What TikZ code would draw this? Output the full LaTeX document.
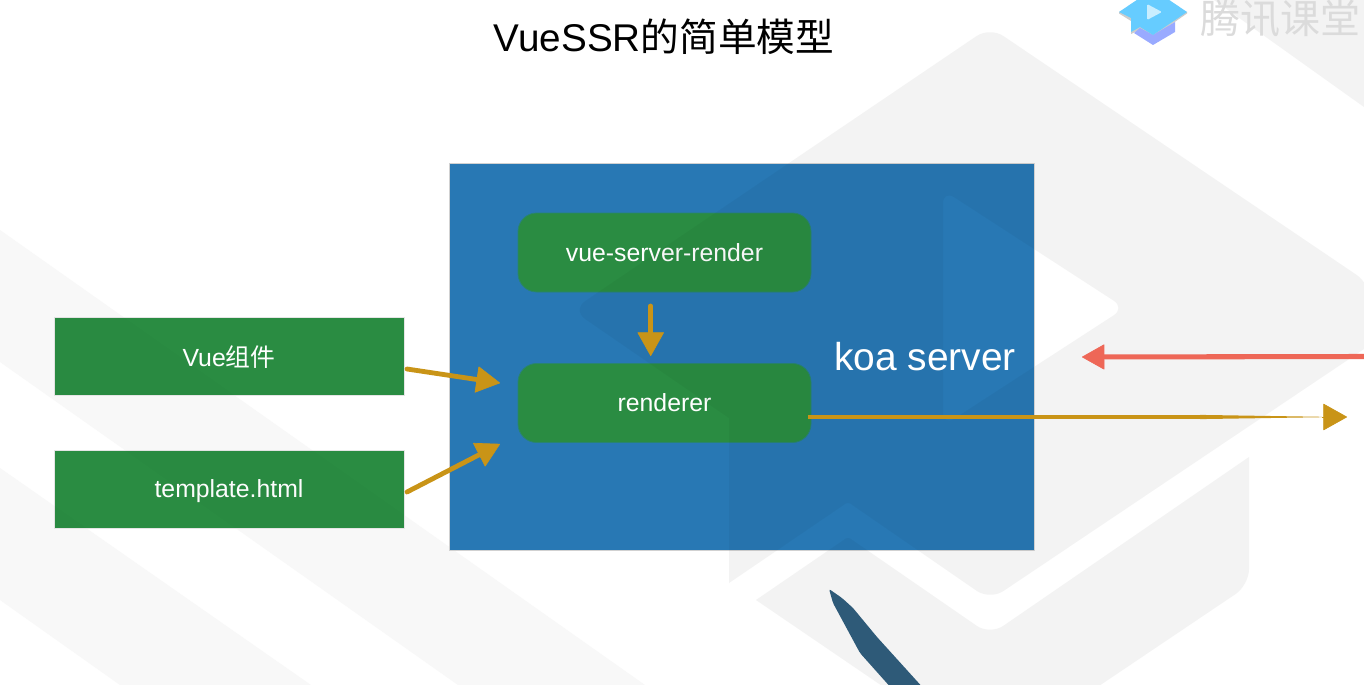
\documentclass[tikz,border=0pt]{standalone}
\usepackage{fontspec}
\setmainfont{Liberation Sans}
\newfontfamily\cjk{Noto Sans CJK SC}
\usetikzlibrary{arrows.meta}
\definecolor{hexgray}{HTML}{F3F3F3}
\definecolor{bandgray}{HTML}{F8F8F8}
\definecolor{koablue}{HTML}{2878B4}
\definecolor{boxgreen}{HTML}{2A8C42}
\definecolor{gold}{HTML}{C99417}
\definecolor{coral}{HTML}{EE6757}
\definecolor{pen}{HTML}{2E5A78}
\definecolor{capblue}{HTML}{66CCFF}
\definecolor{capviolet}{HTML}{99AAFF}
\definecolor{capplay}{HTML}{C9EEFF}
\newcommand{\hexpath}{
  [rounded corners=12pt] (990,27) -- (1370,284) [sharp corners] -- (1370,345) [rounded corners=12pt] -- (990,600) [rounded corners=2pt] -- (848,502) [sharp corners] -- (729,583) -- (729,418) [rounded corners=12pt] -- (572,310) -- cycle
  [rounded corners=10pt] (943,190) -- (1125,308) -- (943,426) -- cycle}
\newcommand{\lowpath}{
  [sharp corners] (756,600) [rounded corners=2pt] -- (848,537) [rounded corners=12pt] -- (990,635) [sharp corners] -- (1249,457) [rounded corners=12pt] -- (1249,585) [sharp corners] -- (1090,692) -- (891,692) -- cycle}
\newcommand{\bandpath}{
  (0,230) -- (645,685) -- (458,685) -- (0,362) -- cycle
  (0,468) -- (311,685) -- (120,685) -- (0,600) -- cycle}
\tikzset{
  x=0.75pt,y=-0.75pt,
  every node/.style={inner sep=0pt,outer sep=0pt},
  bandtext/.style={font=\fontsize{18.6pt}{22pt}\selectfont,text=white,text depth=0pt},
  flatbox/.style={bandtext,fill=boxgreen,draw=black!10,line width=0.3pt,minimum width=262.5pt,minimum height=58.5pt},
  roundbox/.style={bandtext,fill=boxgreen,draw=boxgreen!60!koablue,line width=0.6pt,rounded corners=14pt,minimum width=219.75pt,minimum height=59.25pt},
  goldarrow/.style={draw=gold,line width=3.6pt,line cap=round,-{Triangle[length=18pt,width=20pt,fill=gold,round,line width=0.5pt]}},
  coralarrow/.style={draw=coral,line width=3.8pt,-{Triangle[length=17pt,width=19pt,fill=coral,round,line width=0.5pt]}},
}
\begin{document}
\begin{tikzpicture}
\useasboundingbox (0,0) rectangle (1364,685);
\clip (0,0) rectangle (1364,685);
\fill[white] (0,0) rectangle (1364,685);
% background
\fill[bandgray] \bandpath;
\fill[hexgray,even odd rule] \hexpath;
\fill[hexgray] \lowpath;
\fill[hexgray] (1214,0) -- (1364,107) -- (1364,0) -- cycle;
% logo
\fill[black!20] (1119,13.5) -- (1131,21) -- (1131,34) -- (1141,29) -- (1153,37) -- (1187,13.5) -- (1187,12) -- (1119,12) -- cycle;
\fill[capviolet] (1134,33) -- (1153,45) -- (1175,32) -- (1175,22) -- (1153,35) -- (1140,28) -- cycle;
\fill[capblue] (1119,12) -- (1153,-11) -- (1187,12) -- (1153,35) -- (1140,27) -- (1131,32) -- (1131,18) -- cycle;
\fill[capplay,rounded corners=1pt] (1147,4) -- (1147,20) -- (1162,12) -- cycle;
\node[text=black!14,font=\cjk\fontsize{30pt}{32pt}\selectfont,anchor=center] (brand) at (1280,19) {腾讯课堂};
% title
\node[font=\fontsize{29pt}{34pt}\selectfont,text=black] (title) at (664,37) {VueSSR{\cjk 的简单模型}};
% left boxes
\node[flatbox] (vue) at (229,356) {Vue{\cjk 组件}};
\node[flatbox] (tpl) at (229,489) {template.html};
\begin{scope}
  \clip (54,317) rectangle (404,395) (54,450) rectangle (404,528);
  \fill[black,opacity=0.012] \bandpath;
\end{scope}
% server
\node[fill=koablue,draw=black!18,line width=0.3pt,minimum width=438.75pt,minimum height=290.25pt] (koa) at (741.5,356.5) {};
\node[roundbox] (vsr) at (664.5,252.5) {vue-server-render};
\node[roundbox] (rend) at (664.5,403) {renderer};
\begin{scope}
  \clip (449,163) rectangle (1034,550);
  \fill[black,opacity=0.035,even odd rule] \hexpath;
  \fill[black,opacity=0.035] \lowpath;
\end{scope}
\node[font=\fontsize{29.2pt}{34pt}\selectfont,text=white] (koalabel) at (925,357) {koa server};
% connectors
\coordinate (v1) at (407,369); \coordinate (v2) at (500,383);
\coordinate (t1) at (407,492); \coordinate (t2) at (500,444);
\coordinate (c1) at (650.7,306); \coordinate (c2) at (650.7,356);
\coordinate (o1) at (808,417); \coordinate (o2) at (1200,417); \coordinate (o3) at (1322,417); \coordinate (o4) at (1347,417);
\coordinate (r1) at (1366,356.5); \coordinate (r2) at (1082,357);
\draw[goldarrow] (v1) -- (v2);
\draw[goldarrow] (t1) -- (t2);
\draw[goldarrow] (c1) -- (c2);
\draw[coralarrow] (r1) -- (r2);
\draw[draw=gold,line width=3.2pt] (o1) -- (o2);
\fill[gold] (1200,414.9) -- (1322,416.8) -- (1322,417.2) -- (1200,419.1) -- cycle;
\draw[draw=gold,line width=0.3pt,-{Triangle[length=18pt,width=20pt,fill=gold,round,line width=0.5pt]}] (o3) -- (o4);
% pen cursor
\fill[pen,rounded corners=1.5pt] (829,589) -- (842,598) -- (853,608) -- (877,637) -- (925,690) -- (893,690) -- (860,653) -- (833,603) -- cycle;
\end{tikzpicture}
\end{document}
